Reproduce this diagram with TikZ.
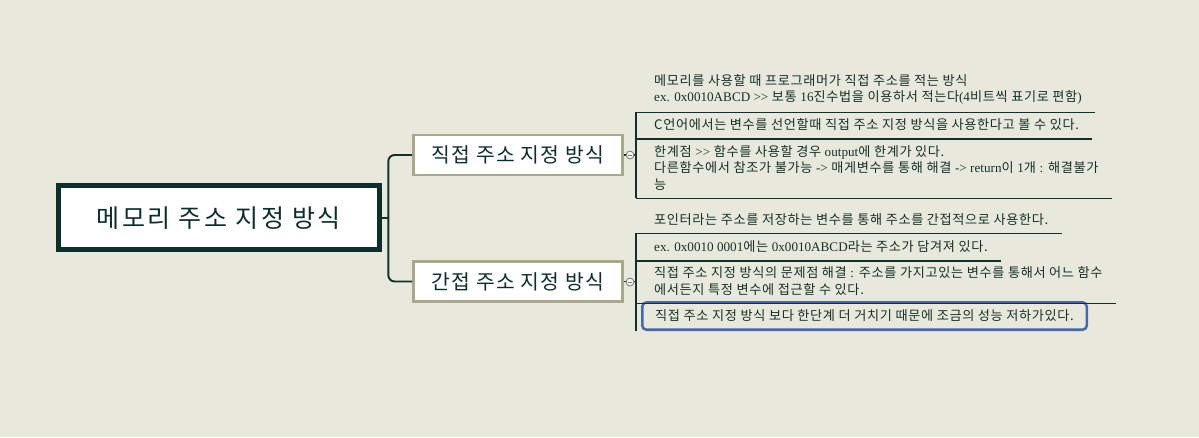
\documentclass[tikz,border=0pt]{standalone}
\usepackage{fontspec}
\setmainfont[LetterSpace=5]{Noto Sans CJK KR}
\newfontfamily\topicfont[LetterSpace=6]{Noto Sans CJK KR}
\newfontfamily\rootfont[LetterSpace=10]{Noto Sans CJK KR}
\newfontfamily\serifpart{Liberation Serif}
\newcommand{\ltn}[1]{{\serifpart #1}}
\usepackage{tikz}
\usetikzlibrary{positioning}
\usepackage{xcolor}
\definecolor{paper}{RGB}{233,232,221}
\definecolor{darkteal}{RGB}{14,46,44}
\definecolor{olivegray}{RGB}{168,168,138}
\definecolor{inkgreen}{RGB}{20,48,40}
\definecolor{selblue}{RGB}{72,104,170}
\definecolor{markgray}{RGB}{118,124,118}

\tikzset{
  rootbox/.style={rectangle, draw=darkteal, line width=3.6pt, fill=white,
        minimum width=8.03cm, minimum height=1.6cm,
        font=\rootfont\fontsize{17.8}{20}\selectfont, text=darkteal},
  topicbox/.style={rectangle, draw=olivegray, line width=2.1pt, fill=white,
        minimum width=5.22cm, minimum height=1cm,
        font=\topicfont\fontsize{14.5}{17}\selectfont, text=darkteal},
  subtopic/.style={anchor=south west, inner xsep=9.2pt, inner ysep=5.5pt,
        align=left, font=\fontsize{9.35}{11.7}\selectfont, text=inkgreen},
  picked/.style={draw=selblue, line width=1.8pt, rounded corners=3pt},
  branch/.style={draw=inkgreen, line width=1.4pt},
  underrule/.style={draw=inkgreen, line width=1.1pt},
  marker/.style={circle, draw=markgray, fill=paper!40!white, line width=0.6pt,
        minimum size=5.6pt, inner sep=0pt,
        path picture={\draw[markgray, line width=0.5pt]
          ([xshift=-1.5pt]path picture bounding box.center) --
          ([xshift=1.5pt]path picture bounding box.center);}}
}

\begin{document}
\begin{tikzpicture}[x=0.025cm, y=-0.025cm]
  \fill[paper] (0,0) rectangle (1199,437);
  \useasboundingbox (0,0) rectangle (1199,437);

  % main topic and its two branches
  \node[rootbox] (root) at (218.7,217.8) {메모리 주소 지정 방식};
  \node[topicbox] (direct) at (518,155) {직접 주소 지정 방식};
  \node[topicbox] (indirect) at (518,281.5) {간접 주소 지정 방식};

  \coordinate (fork) at (388.3,217.8);
  \draw[branch] (root.east) -- (fork);
  \draw[branch, rounded corners=4.5pt] (fork) |- (direct.west);
  \draw[branch, rounded corners=4.5pt] (fork) |- (indirect.west);

  % direct addressing notes
  \coordinate (gd) at (636,155);
  \node[subtopic] (d1) at (641,112.3) {메모리를 사용할 때 프로그래머가 직접 주소를 적는 방식\\
    \ltn{ex. 0x0010ABCD >>} 보통 \ltn{16}진수법을 이용하서 적는다\ltn{(4}비트씩 표기로 편함\ltn{)}};
  \node[subtopic] (d2) at (641,139) {C언어에서는 변수를 선언할때 직접 주소 지정 방식을 사용한다고 볼 수 있다.};
  \node[subtopic] (d3) at (641,198.3) {한계점 \ltn{>>} 함수를 사용할 경우 \ltn{output}에 한계가 있다.\\
    다른함수에서 참조가 불가능 \ltn{->} 매게변수를 통해 해결 \ltn{-> return}이 \ltn{1}개 \ltn{:} 해결불가\\
    능};

  \draw[branch] (direct.east) -- (gd);
  \draw[branch] (gd |- d1.south) -- (gd |- d3.south);
  \draw[underrule] (gd |- d1.south) -- (d1.south east);
  \draw[underrule] (gd |- d2.south) -- (d2.south east);
  \draw[underrule] (gd |- d3.south) -- (d3.south east);
  \node[marker] (md) at (630,155) {};

  % indirect addressing notes
  \coordinate (gi) at (636,281.5);
  \node[subtopic] (i1) at (641,233.3) {포인터라는 주소를 저장하는 변수를 통해 주소를 간접적으로 사용한다.};
  \node[subtopic] (i2) at (641,261) {\ltn{ex. 0x0010 0001}에는 \ltn{0x0010ABCD}라는 주소가 담겨져 있다.};
  \node[subtopic] (i3) at (641,303.3) {직접 주소 지정 방식의 문제점 해결 \ltn{:} 주소를 가지고있는 변수를 통해서 어느 함수\\
    에서든지 특정 변수에 접근할 수 있다.};
  \node[subtopic, picked] (i4) at (641,331) {직접 주소 지정 방식 보다 한단계 더 거치기 때문에 조금의 성능 저하가있다.};

  \draw[branch] (indirect.east) -- (gi);
  \draw[branch] (gi |- i1.south) -- (gi |- i4.south);
  \draw[underrule] (gi |- i1.south) -- (i1.south east);
  \draw[underrule] (gi |- i2.south) -- (i2.south east);
  \draw[underrule] (gi |- i3.south) -- (i3.south east);
  \node[marker] (mi) at (630,282) {};
\end{tikzpicture}
\end{document}
